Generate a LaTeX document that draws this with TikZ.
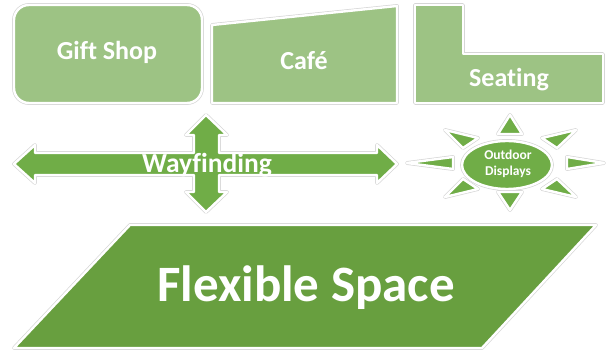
\documentclass[tikz,border=0pt]{standalone}
\usepackage{fontspec}
\setmainfont{Carlito}[Ligatures=NoCommon]
\usepackage{tikz}
\usetikzlibrary{positioning}
\definecolor{zonelight}{HTML}{9DC384}
\definecolor{zonemid}{HTML}{70AD47}
\definecolor{zonedark}{HTML}{689F3F}
\tikzset{
  zone/.style={fill=#1,draw=white,line width=2.4pt,line join=round,
    preaction={draw=black!16,line width=3.8pt,line join=round}},
  zonelab/.style={text=white,font=\bfseries\fontsize{#1}{#1}\selectfont,anchor=base,inner sep=0pt}
}

\begin{document}
\begin{tikzpicture}[x=1pt,y=-1pt]
  \useasboundingbox (0,0) rectangle (608,352);
  % top row of rooms
  \draw[zone=zonelight,rounded corners=15pt] (14,5) rectangle (202,103);
  \draw[zone=zonelight] (212,25) -- (397,6) -- (397,103) -- (212,103) -- cycle;
  \draw[zone=zonelight] (415,5) -- (463,5) -- (463,54) -- (603,54) -- (603,103) -- (415,103) -- cycle;
  \node[zonelab=26] (gift) at (107,60) {Gift Shop};
  \node[zonelab=26] (cafe) at (304,69.5) {Café};
  \node[zonelab=26] (seat) at (509,87) {Seating};
  % wayfinding cross
  \draw[zone=zonemid] (14,164) -- (35,145) -- (35,153) -- (194,153) -- (194,135)
    -- (186,135) -- (206,115) -- (227,135) -- (219,135) -- (219,153)
    -- (377,153) -- (377,145) -- (397,164) -- (377,183) -- (377,175)
    -- (219,175) -- (219,192) -- (227,192) -- (206,212) -- (186,192)
    -- (194,192) -- (194,175) -- (35,175) -- (35,183) -- cycle;
  \node[zonelab=27.5] (way) at (207,173) {Wayfinding};
  % outdoor displays
  \foreach \ax/\ay/\bx/\by/\cx/\cy in {510/115/498/134/522/134, 510/210/498/192/522/192,
      407/163/453/157/453/169, 604/163/567/157/567/169,
      445/130/478/138/463/148, 576/130/542/138/557/148,
      445/197/478/189/463/179, 576/197/542/189/557/179}
    \draw[zone=zonemid] (\ax,\ay) -- (\bx,\by) -- (\cx,\cy) -- cycle;
  \draw[zone=zonemid] (507,165) ellipse [x radius=45,y radius=24];
  \node[zonelab=13.5] (outa) at (508,160) {Outdoor};
  \node[zonelab=13.5] (outb) at (508,176) {Displays};
  % flexible space
  \draw[zone=zonedark] (130,225) -- (596,225) -- (482,348) -- (14,348) -- cycle;
  \node[zonelab=51] (flex) at (306,302) {Flexible Space};
\end{tikzpicture}
\end{document}
